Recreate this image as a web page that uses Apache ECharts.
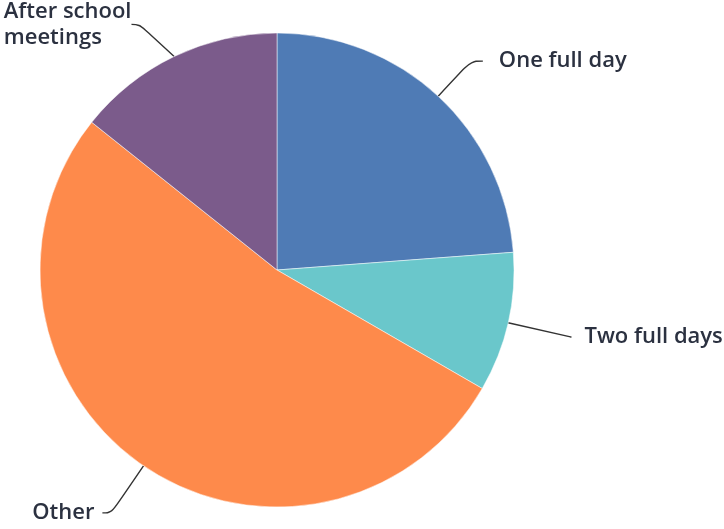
<!DOCTYPE html>
<html>
<head>
<meta charset="utf-8">
<style>
  html, body { margin: 0; padding: 0; background: #fff; }
  #chart { width: 724px; height: 529px; }
</style>
<script src="https://cdn.jsdelivr.net/npm/echarts@6/dist/echarts.min.js"></script>
</head>
<body>
<div id="chart"></div>
<script>
// Responses per answer option
const categories = ['One full day', 'Two full days', 'Other', 'After school\nmeetings'];
const counts = [5, 2, 11, 3];
const colors = ['#4f7bb5', '#6ac7cb', '#fe8a4b', '#7b5b8b'];
// leader line segments and label gap for each slice
const leaderLengths = [48, 64, 57, 50];
const leaderTails = [12, 1, 9, 8];
const labelGaps = [16, 13, 8, 13];

const chart = echarts.init(document.getElementById('chart'), null, { renderer: 'canvas' });

chart.setOption({
  animation: false,
  backgroundColor: '#ffffff',
  series: [{
    type: 'pie',
    center: [277, 270],
    radius: 237,
    startAngle: 90,
    clockwise: true,
    avoidLabelOverlap: false,
    data: categories.map((name, i) => ({
      name: name,
      value: counts[i],
      itemStyle: { color: colors[i] },
      label: { distanceToLabelLine: labelGaps[i] },
      labelLine: { length: leaderLengths[i], length2: leaderTails[i] }
    })),
    itemStyle: { borderColor: '#ffffff', borderWidth: 0.5 },
    label: {
      show: true,
      formatter: '{b}',
      color: '#2b3140',
      fontFamily: 'Open Sans',
      fontSize: 22,
      fontWeight: 600,
      lineHeight: 26,
      overflow: 'none'
    },
    labelLine: {
      show: true,
      smooth: 0.4,
      lineStyle: { color: '#333333', width: 1.4 }
    },
    labelLayout: function (params) {
      // two-line label: left-aligned lines, first line level with its leader line
      if (params.dataIndex === 3) {
        const r = params.labelRect;
        return { x: r.x, y: r.y + 13, align: 'left', verticalAlign: 'top' };
      }
      return {};
    },
    emphasis: { disabled: true }
  }]
});
</script>
</body>
</html>
